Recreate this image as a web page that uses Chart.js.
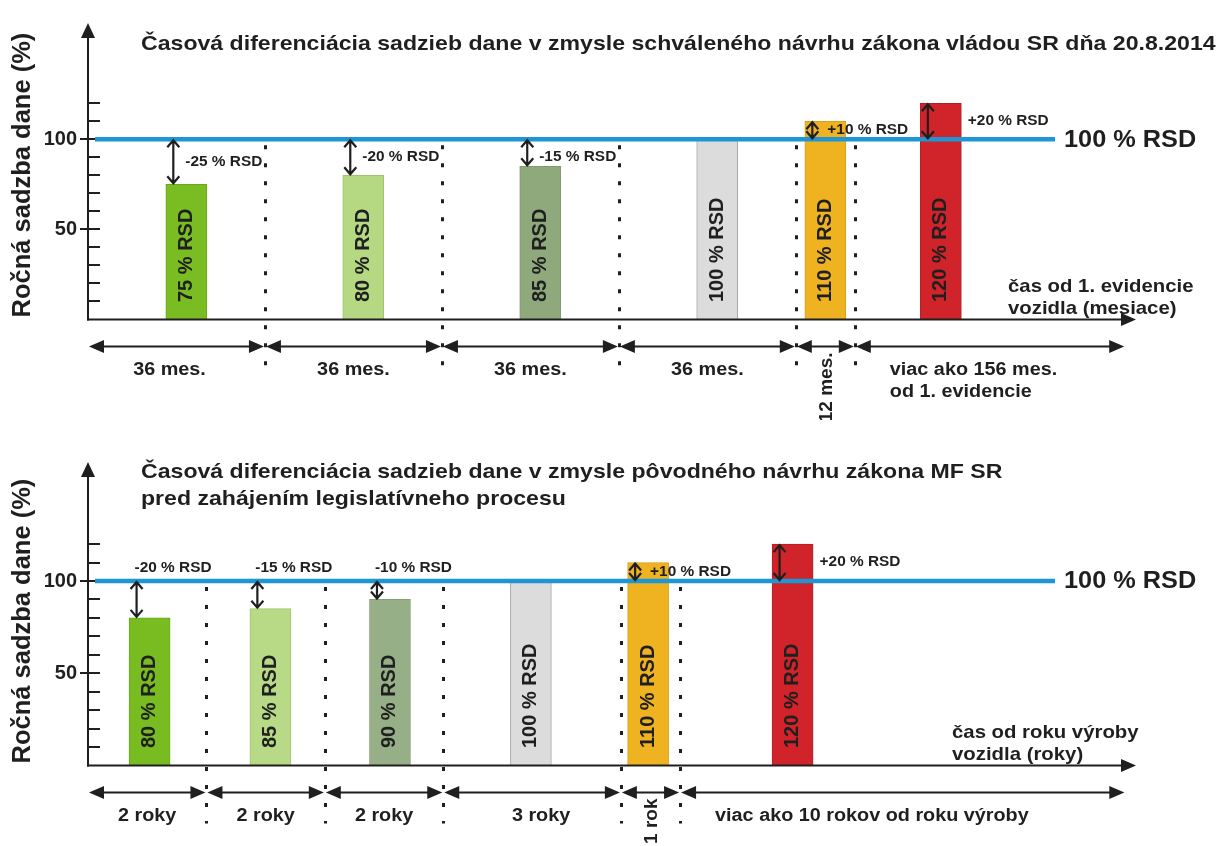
<!DOCTYPE html>
<html lang="sk">
<head>
<meta charset="utf-8">
<title>Časová diferenciácia sadzieb dane</title>
<script src="https://cdn.jsdelivr.net/npm/chart.js@4.4.1/dist/chart.umd.min.js"></script>
<style>
  html, body { margin: 0; padding: 0; background: #ffffff; }
  #page { position: relative; width: 1226px; height: 846px; overflow: hidden; }
  .panel { position: absolute; left: 0; }
</style>
</head>
<body>
<div id="page">
  <canvas id="approved" class="panel" style="top:0" width="1226" height="420"></canvas>
  <canvas id="original" class="panel" style="top:420px" width="1226" height="426"></canvas>
</div>
<script>
// ---- Schválený návrh zákona (vláda SR, 20.8.2014), čas v mesiacoch ----
const approvedRates = [75, 80, 85, 100, 110, 120];
const approvedBarMonths = [20, 56, 92, 128, 150, 173.5];
const approvedBounds = [0, 36, 72, 108, 144, 156, 211];
const approvedPeriods = ['36 mes.', '36 mes.', '36 mes.', '36 mes.', '12 mes.', ['viac ako 156 mes.', 'od 1. evidencie']];

// ---- Pôvodný návrh zákona MF SR, čas v rokoch ----
const originalRates = [80, 85, 90, 100, 110, 120];
const originalBarYears = [1.04, 3.08, 5.1, 7.48, 9.46, 11.9];
const originalBounds = [0, 2, 4, 6, 9, 10, 17.52];
const originalPeriods = ['2 roky', '2 roky', '2 roky', '3 roky', '1 rok', ['viac ako 10 rokov od roku výroby']];

// ---- Os y ----
const yTicks = [10, 20, 30, 40, 50, 60, 70, 80, 90, 100, 110, 120];
const yLabelledTicks = [50, 100];
const referenceRate = 100;

const FONT = "'Liberation Sans', Arial, Helvetica, sans-serif";
const INK = '#1f1f1f';
const BLUE = '#1c96d4';
const WIDEN = 1.1; // horizontal letter widening used for the annotation texts

function font(size) { return `bold ${size}px ${FONT}`; }

function diffLabel(rate) {
  const d = rate - referenceRate;
  return (d > 0 ? '+' : '') + d + ' % RSD';
}

// horizontally widened text
function wideText(ctx, text, x, y, align) {
  ctx.save();
  ctx.translate(x, y);
  ctx.scale(WIDEN, 1);
  ctx.textAlign = align;
  ctx.textBaseline = 'middle';
  ctx.fillText(text, 0, 0);
  ctx.restore();
}

function rotatedText(ctx, text, x, y, align) {
  ctx.save();
  ctx.translate(x, y);
  ctx.rotate(-Math.PI / 2);
  ctx.textAlign = align;
  ctx.textBaseline = 'middle';
  ctx.fillText(text, 0, 0);
  ctx.restore();
}

function filledHead(ctx, tipX, tipY, dirX, dirY, len, half) {
  const bx = tipX - dirX * len, by = tipY - dirY * len;
  ctx.beginPath();
  ctx.moveTo(tipX, tipY);
  ctx.lineTo(bx - dirY * half, by + dirX * half);
  ctx.lineTo(bx + dirY * half, by - dirX * half);
  ctx.closePath();
  ctx.fill();
}

function doubleArrowH(ctx, xa, xb, yy) {
  ctx.beginPath();
  ctx.moveTo(xa + 10, yy);
  ctx.lineTo(xb - 10, yy);
  ctx.stroke();
  filledHead(ctx, xa + 1, yy, -1, 0, 15, 6.5);
  filledHead(ctx, xb - 1, yy, 1, 0, 15, 6.5);
}

function openDoubleArrowV(ctx, xx, yTop, yBot) {
  ctx.beginPath();
  ctx.moveTo(xx, yTop + 1);
  ctx.lineTo(xx, yBot - 1);
  ctx.moveTo(xx - 6, yTop + 8);
  ctx.lineTo(xx, yTop + 1);
  ctx.lineTo(xx + 6, yTop + 8);
  ctx.moveTo(xx - 6, yBot - 8);
  ctx.lineTo(xx, yBot - 1);
  ctx.lineTo(xx + 6, yBot - 8);
  ctx.stroke();
}

// Draws axes, ticks, the 100 % line, period arrows and all annotations.
const diagram = {
  id: 'diagram',
  afterDatasetsDraw(chart, args, opts) {
    const { ctx, chartArea: a, scales: { x, y } } = chart;
    const y0 = y.getPixelForValue(0);
    const yRef = y.getPixelForValue(referenceRate);
    const left = a.left;
    const bars = chart.getDatasetMeta(0).data;
    const rates = chart.data.datasets[0].data.map(p => p.y);

    ctx.save();
    ctx.strokeStyle = INK;
    ctx.fillStyle = INK;
    ctx.lineCap = 'butt';

    // dotted period separators
    ctx.save();
    ctx.lineWidth = 3;
    ctx.setLineDash([4, 14]);
    opts.bounds.slice(1, -1).forEach(b => {
      const px = Math.round(x.getPixelForValue(b)) + 0.5;
      ctx.beginPath();
      ctx.moveTo(px, yRef + 6);
      ctx.lineTo(px, y0 + 58);
      ctx.stroke();
    });
    ctx.restore();

    // y axis with arrow
    ctx.lineWidth = 2;
    ctx.beginPath();
    ctx.moveTo(left, y0 + 1);
    ctx.lineTo(left, a.top + 10);
    ctx.stroke();
    filledHead(ctx, left, a.top, 0, -1, 15, 7);

    // x axis with arrow
    ctx.beginPath();
    ctx.moveTo(left - 1, y0);
    ctx.lineTo(a.right - 10, y0);
    ctx.stroke();
    filledHead(ctx, a.right, y0, 1, 0, 15, 6.5);

    // tick marks
    yTicks.forEach(v => {
      const py = Math.round(y.getPixelForValue(v));
      const from = yLabelledTicks.includes(v) ? left - 8 : left;
      ctx.beginPath();
      ctx.moveTo(from, py);
      ctx.lineTo(left + 12, py);
      ctx.stroke();
    });

    // 100 % reference line
    ctx.save();
    ctx.strokeStyle = BLUE;
    ctx.lineWidth = 4.5;
    ctx.beginPath();
    ctx.moveTo(left + 7, yRef);
    ctx.lineTo(left + 967, yRef);
    ctx.stroke();
    ctx.restore();
    ctx.font = font(23);
    wideText(ctx, referenceRate + ' % RSD', left + 976, yRef + 1, 'left');

    // difference arrows and labels
    ctx.lineWidth = 2.2;
    ctx.font = font(14);
    bars.forEach((bar, i) => {
      const r = rates[i];
      if (r === referenceRate) return;
      const ax = bar.x - 13;
      const top = Math.min(bar.y, yRef), bot = Math.max(bar.y, yRef);
      openDoubleArrowV(ctx, ax, top, bot);
      const mid = (top + bot) / 2;
      if (r < referenceRate) {
        if (opts.negAbove) wideText(ctx, diffLabel(r), ax - 2, yRef - 13, 'left');
        else wideText(ctx, diffLabel(r), ax + 12, Math.max(mid, yRef + 18), 'left');
      } else {
        const dx = r - referenceRate > 10 ? 40 : 15;
        wideText(ctx, diffLabel(r), ax + dx, mid, 'left');
      }
    });

    // rate labels inside bars
    ctx.font = font(20);
    bars.forEach((bar, i) => {
      rotatedText(ctx, rates[i] + ' % RSD', bar.x, y0 - 17.5, 'left');
    });

    // period arrows and labels
    const yArr = y0 + 27;
    ctx.lineWidth = 2;
    for (let i = 0; i < opts.bounds.length - 1; i++) {
      const xa = x.getPixelForValue(opts.bounds[i]);
      const xb = x.getPixelForValue(opts.bounds[i + 1]);
      doubleArrowH(ctx, xa, xb, yArr);
      const lab = opts.periods[i];
      ctx.font = font(18);
      if (Array.isArray(lab)) {
        lab.forEach((line, k) => wideText(ctx, line, xa + 35, y0 + 51 + k * 22, 'left'));
      } else if (xb - xa < 80) {
        ctx.font = font(19);
        rotatedText(ctx, lab, (xa + xb) / 2 + 1, y0 + 33, 'right');
      } else {
        wideText(ctx, lab, (xa + xb) / 2 + (opts.labelShift[i] || 0), y0 + 51, 'center');
      }
    }

    // x axis caption
    ctx.font = font(18.5);
    opts.xCaption.forEach((line, k) => wideText(ctx, line, opts.xCaptionX, y0 - 33 + k * 22, 'left'));

    // y axis caption
    ctx.font = font(25.5);
    rotatedText(ctx, 'Ročná sadzba dane (%)', 23, y0 - 2, 'left');

    // title
    ctx.font = font(21);
    opts.title.forEach((line, k) => wideText(ctx, line, 141, opts.titleY + k * 27, 'left'));

    ctx.restore();
  }
};

function build(canvasId, cfg) {
  return new Chart(document.getElementById(canvasId), {
    type: 'bar',
    data: {
      datasets: [{
        data: cfg.rates.map((r, i) => ({ x: cfg.barAt[i], y: r })),
        backgroundColor: cfg.fill,
        borderColor: cfg.stroke,
        borderWidth: 1,
        barThickness: 41,
        grouped: false
      }]
    },
    options: {
      responsive: false,
      animation: false,
      events: [],
      layout: { padding: { left: 0, right: 90, top: cfg.padTop, bottom: cfg.padBottom } },
      plugins: {
        legend: { display: false },
        tooltip: { enabled: false },
        diagram: cfg.diagram
      },
      scales: {
        x: {
          type: 'linear', min: 0, max: cfg.xMax, offset: false,
          ticks: { display: false },
          grid: { display: false, drawTicks: false, offset: false },
          border: { display: false },
          afterFit: s => { s.height = 0; }
        },
        y: {
          type: 'linear', min: 0, max: 164.5,
          ticks: {
            stepSize: 10, padding: 11, color: INK, autoSkip: false,
            font: { family: FONT, weight: 'bold', size: 20 },
            callback: v => (yLabelledTicks.includes(v) ? String(v) : '')
          },
          grid: { display: false, drawTicks: false },
          border: { display: false },
          afterFit: s => { s.width = 88; }
        }
      }
    },
    plugins: [diagram]
  });
}

build('approved', {
  rates: approvedRates,
  barAt: approvedBarMonths,
  xMax: 213.2,
  padTop: 15,
  padBottom: 100.5,
  fill: ['#79bd22', '#b5d883', '#8fa97c', '#dcdcdc', '#efb322', '#d1232a'],
  stroke: ['#6aa81c', '#9cc46a', '#7f9a6c', '#a9a9a9', '#d99f1a', '#b51d23'],
  diagram: {
    bounds: approvedBounds,
    periods: approvedPeriods,
    labelShift: [-7, 0, 0, 0],
    negAbove: false,
    xCaption: ['čas od 1. evidencie', 'vozidla (mesiace)'],
    xCaptionX: 1008,
    title: ['Časová diferenciácia sadzieb dane v zmysle schváleného návrhu zákona vládou SR dňa 20.8.2014'],
    titleY: 44
  }
});

build('original', {
  rates: originalRates,
  barAt: originalBarYears,
  xMax: 17.7,
  padTop: 42,
  padBottom: 80.5,
  fill: ['#78bc22', '#b8da87', '#97af86', '#dcdcdc', '#efb322', '#d1232a'],
  stroke: ['#69a81c', '#a0c770', '#869f76', '#a9a9a9', '#d99f1a', '#b51d23'],
  diagram: {
    bounds: originalBounds,
    periods: originalPeriods,
    labelShift: [0, 0, 0, 9],
    negAbove: true,
    xCaption: ['čas od roku výroby', 'vozidla (roky)'],
    xCaptionX: 952,
    title: ['Časová diferenciácia sadzieb dane v zmysle pôvodného návrhu zákona MF SR',
            'pred zahájením legislatívneho procesu'],
    titleY: 52
  }
});
</script>
</body>
</html>
